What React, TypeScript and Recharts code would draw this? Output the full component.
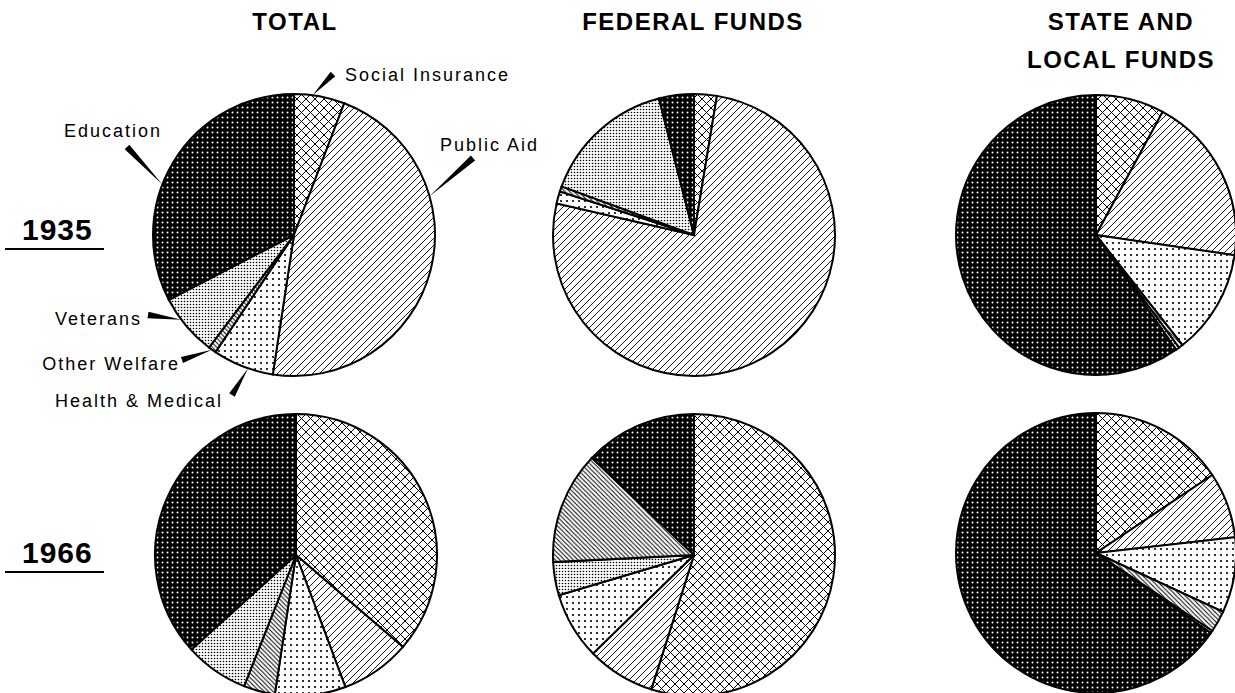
import React from 'react';
import { PieChart, Pie, Cell } from 'recharts';

// spending categories, in the order the slices run clockwise from 12 o'clock
const CATEGORIES = [
  'Social Insurance',
  'Public Aid',
  'Health & Medical',
  'Other Welfare',
  'Veterans',
  'Education',
];

// percent shares, same order as CATEGORIES
const TOTAL_1935 = [5.8, 46.6, 7.0, 0.9, 7.1, 32.6];
const FEDERAL_1935 = [2.6, 76.0, 1.4, 0.6, 15.4, 4.0];
const STATE_1935 = [7.9, 19.4, 12.1, 0.5, 0.4, 59.7];
const TOTAL_1966 = [36.3, 8.0, 8.1, 3.6, 7.3, 36.7];
const FEDERAL_1966 = [54.9, 7.8, 7.7, 12.9, 3.8, 12.9];
const STATE_1966 = [15.6, 7.6, 8.7, 2.5, 0.3, 65.3];

// draw order of the slices (federal 1966 has veterans ahead of other welfare)
const DEFAULT_ORDER = [0, 1, 2, 3, 4, 5];
const FEDERAL_1966_ORDER = [0, 1, 2, 4, 3, 5];

const COLUMN_TITLES = [['TOTAL'], ['FEDERAL FUNDS'], ['STATE AND', 'LOCAL FUNDS']];
const YEARS = ['1935', '1966'];

const FILL: Record<string, string> = {
  'Social Insurance': 'url(#pSI)',
  'Public Aid': 'url(#pPA)',
  'Health & Medical': 'url(#pHM)',
  'Other Welfare': 'url(#pOW)',
  Veterans: 'url(#pVET)',
  Education: 'url(#pEDU)',
};

const toData = (values: number[], order: number[] = DEFAULT_ORDER) =>
  order.map((ci) => ({ name: CATEGORIES[ci], value: values[ci] }));

const PIES = [
  { id: 't35', data: toData(TOTAL_1935), cx: 294, cy: 235, r: 141, labels: true },
  { id: 'f35', data: toData(FEDERAL_1935), cx: 694, cy: 235, r: 141, labels: false },
  { id: 's35', data: toData(STATE_1935), cx: 1096, cy: 235, r: 140, labels: false },
  { id: 't66', data: toData(TOTAL_1966), cx: 296, cy: 555, r: 141, labels: false },
  { id: 'f66', data: toData(FEDERAL_1966, FEDERAL_1966_ORDER), cx: 694, cy: 555, r: 141, labels: false },
  { id: 's66', data: toData(STATE_1966), cx: 1096, cy: 553, r: 140, labels: false },
];

// callout placement for the labelled pie, relative to its centre
// angle: degrees clockwise from 12 o'clock where the pointer touches the rim
const LABEL_LAYOUT: Record<string, any> = {
  'Social Insurance': { angle: 7.6, bx: 39, by: -161, tx: 51, ty: -154, anchor: 'start' },
  'Public Aid': { angle: 74, bx: 179, by: -77, tx: 146, ty: -84, anchor: 'start' },
  Education: { angle: 291, bx: -167, by: -88, tx: -132, ty: -98, anchor: 'end' },
  Veterans: { angle: 233, bx: -146, by: 80, tx: -152, ty: 90, anchor: 'end' },
  'Other Welfare': { angle: 215.6, bx: -112, by: 125, tx: -114, ty: 135, anchor: 'end' },
  'Health & Medical': { angle: 199, bx: -62, by: 160, tx: -71, ty: 172, anchor: 'end' },
};

const LABEL_FONT = "'Liberation Sans', Arial, sans-serif";

const renderCallout = (props: any) => {
  const { cx, cy, outerRadius, name } = props;
  const lay = LABEL_LAYOUT[name];
  if (!lay) return null;
  const a = (lay.angle * Math.PI) / 180;
  const tipX = cx + outerRadius * Math.sin(a);
  const tipY = cy - outerRadius * Math.cos(a);
  const endX = cx + lay.bx;
  const endY = cy + lay.by;
  const dx = endX - tipX;
  const dy = endY - tipY;
  const len = Math.hypot(dx, dy) || 1;
  const nx = -dy / len;
  const ny = dx / len;
  const w = 3.2;
  const pts = [
    `${tipX},${tipY}`,
    `${endX + nx * w},${endY + ny * w}`,
    `${endX - nx * w},${endY - ny * w}`,
  ].join(' ');
  return (
    <g key={`callout-${name}`}>
      <polygon points={pts} fill="#000" />
      <text
        x={cx + lay.tx}
        y={cy + lay.ty}
        textAnchor={lay.anchor}
        fontFamily={LABEL_FONT}
        fontSize={18}
        letterSpacing={2}
        fill="#000"
      >
        {name}
      </text>
    </g>
  );
};

const TITLE_X = [295, 693, 1121];

export default function App() {
  return (
    <div style={{ position: 'absolute', left: 0, top: 0, width: 1235, height: 693, background: '#fff', overflow: 'hidden' }}>
      <PieChart width={1235} height={693} margin={{ top: 0, right: 0, bottom: 0, left: 0 }}>
        <defs>
          <pattern id="pSI" width="9" height="9" patternUnits="userSpaceOnUse">
            <rect width="9" height="9" fill="#fff" />
            <path d="M0,0L9,9M9,0L0,9" stroke="#000" strokeWidth="1" />
          </pattern>
          <pattern id="pPA" width="7" height="7" patternUnits="userSpaceOnUse">
            <rect width="7" height="7" fill="#fff" />
            <path d="M-1,1L1,-1M0,7L7,0M6,8L8,6" stroke="#000" strokeWidth="0.9" />
          </pattern>
          <pattern id="pHM" width="6" height="6" patternUnits="userSpaceOnUse">
            <rect width="6" height="6" fill="#fff" />
            <circle cx="3" cy="3" r="1.1" fill="#000" />
          </pattern>
          <pattern id="pVET" width="3" height="3" patternUnits="userSpaceOnUse">
            <rect width="3" height="3" fill="#fff" />
            <circle cx="1.5" cy="1.5" r="0.8" fill="#000" />
          </pattern>
          <pattern id="pEDU" width="5" height="5" patternUnits="userSpaceOnUse">
            <rect width="5" height="5" fill="#000" />
            <circle cx="2.5" cy="2.5" r="1" fill="#fff" />
          </pattern>
          <pattern id="pOW" width="4.5" height="4.5" patternUnits="userSpaceOnUse">
            <rect width="4.5" height="4.5" fill="#fff" />
            <path d="M0,0L4.5,4.5M-1,3.5L1,5.5M3.5,-1L5.5,1" stroke="#000" strokeWidth="1" />
          </pattern>
        </defs>
        {PIES.map((p) => (
          <Pie
            key={p.id}
            data={p.data}
            dataKey="value"
            nameKey="name"
            cx={p.cx}
            cy={p.cy}
            outerRadius={p.r}
            startAngle={90}
            endAngle={-270}
            stroke="#000"
            strokeWidth={2}
            isAnimationActive={false}
            label={p.labels ? renderCallout : false}
            labelLine={false}
          >
            {p.data.map((d) => (
              <Cell key={d.name} fill={FILL[d.name]} />
            ))}
          </Pie>
        ))}
      </PieChart>
      <svg
        width={1235}
        height={693}
        style={{ position: 'absolute', left: 0, top: 0, pointerEvents: 'none' }}
      >
        {COLUMN_TITLES.map((lines, i) =>
          lines.map((t, j) => (
            <text
              key={t}
              x={TITLE_X[i]}
              y={30 + j * 38}
              textAnchor="middle"
              fontFamily={LABEL_FONT}
              fontWeight="bold"
              fontSize={24}
              letterSpacing={1.5}
              fill="#000"
            >
              {t}
            </text>
          ))
        )}
        {YEARS.map((yr, i) => (
          <g key={yr}>
            <text
              x={22}
              y={i === 0 ? 240 : 563}
              fontFamily={LABEL_FONT}
              fontWeight="bold"
              fontSize={30}
              letterSpacing={1}
              fill="#000"
            >
              {yr}
            </text>
            <line
              x1={5}
              x2={104}
              y1={i === 0 ? 249 : 572}
              y2={i === 0 ? 249 : 572}
              stroke="#000"
              strokeWidth={2}
            />
          </g>
        ))}
      </svg>
    </div>
  );
}
